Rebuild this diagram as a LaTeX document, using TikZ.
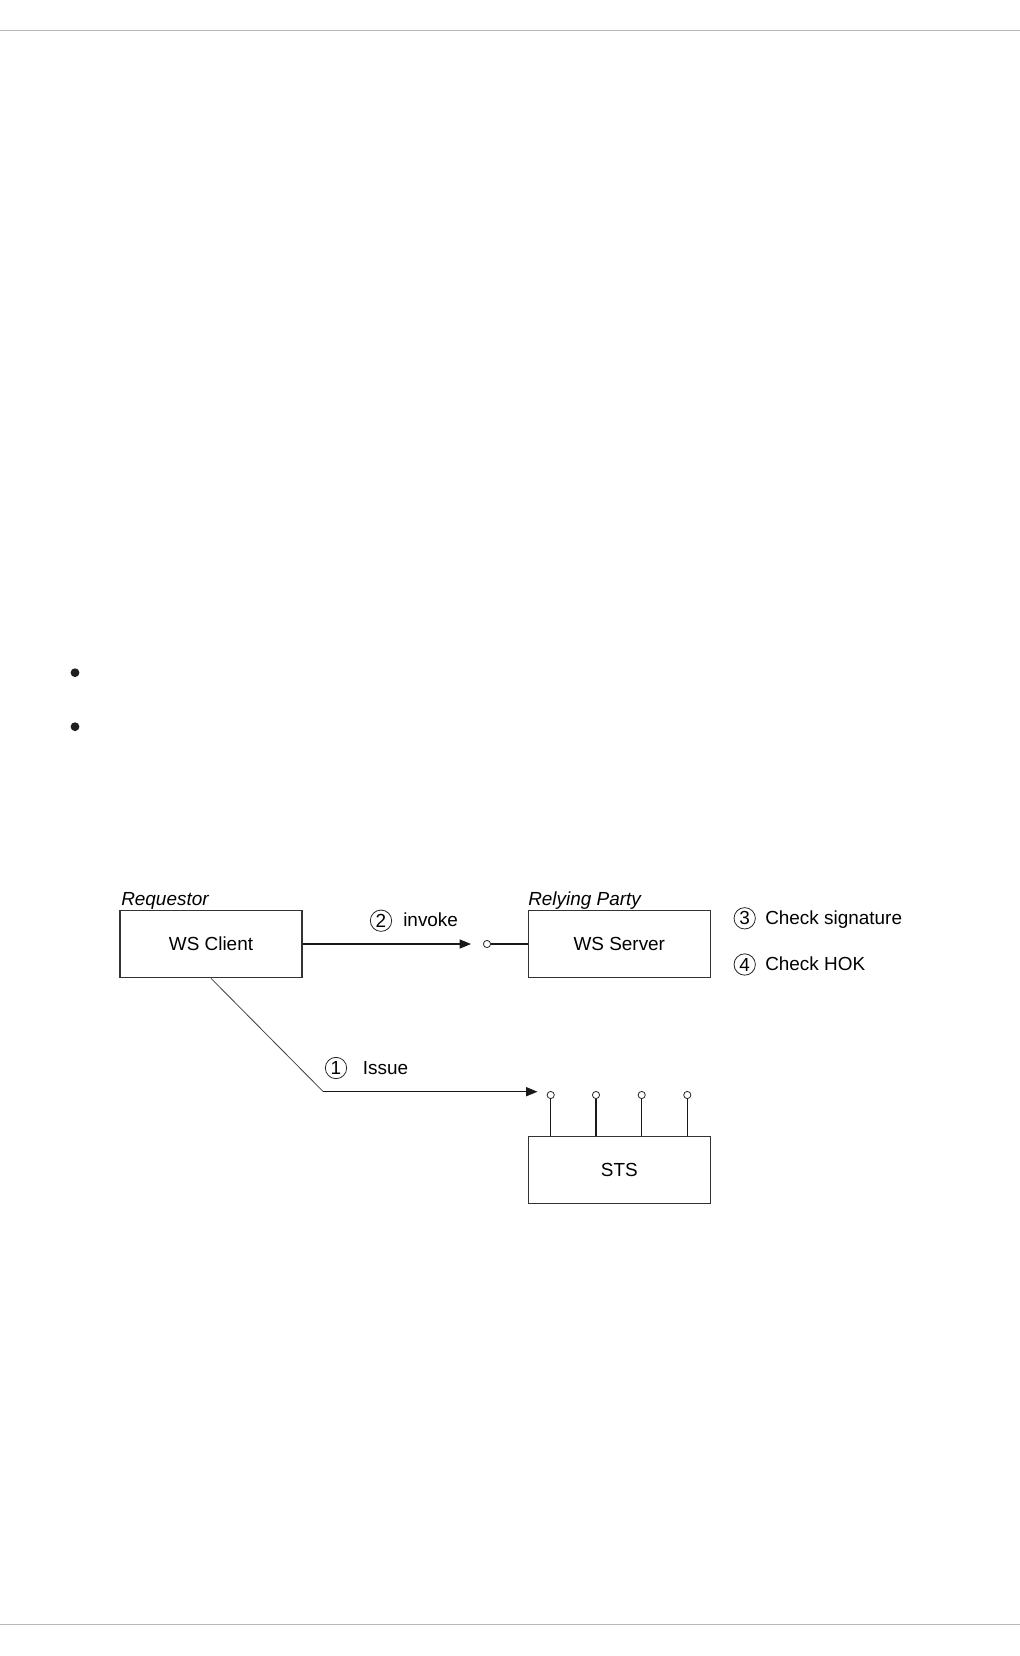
\documentclass[tikz,border=0pt]{standalone}
\usepackage{fontspec}
\setmainfont{Liberation Sans}
\usetikzlibrary{arrows.meta}
\begin{document}
\begin{tikzpicture}[x=0.75pt,y=-0.75pt,
  every node/.style={font=\fontsize{14.2pt}{16pt}\selectfont},
  box/.style={draw=black!80,line width=0.8pt,minimum width=136.5pt,minimum height=50.7pt,inner sep=0pt},
  lbl/.style={inner sep=0pt,anchor=base west},
  num/.style={draw=black!85,circle,line width=0.6pt,minimum size=16pt,inner sep=0pt},
  conn/.style={draw=black!90,line width=0.8pt},
  arr/.style={conn,-{Triangle[length=8.5pt,width=6.8pt]}},
  port/.style={draw=black!85,circle,line width=0.6pt,minimum size=5.4pt,inner sep=0pt,fill=white},
  rule/.style={draw=black!27,line width=1.15pt}
]
\useasboundingbox (0,0) rectangle (1020,1656);
% page rules
\coordinate (tl) at (0,30.7); \coordinate (tr) at (1020,30.7);
\coordinate (bl) at (0,1624.7); \coordinate (br) at (1020,1624.7);
\draw[rule] (tl) -- (tr);
\draw[rule] (bl) -- (br);
% bullets
\fill[black!88] (75,672.7) circle (3.3pt);
\fill[black!88] (75,726.7) circle (3.3pt);
% boxes
\node[box] (wc) at (211,944) {WS Client};
\node[box] (wsv) at (619.3,944) {WS Server};
\node[box] (sts) at (619.3,1170) {STS};
\node[lbl,font=\fontsize{14.2pt}{16pt}\selectfont\itshape] (req) at (121,905) {Requestor};
\node[lbl,font=\fontsize{14.2pt}{16pt}\selectfont\itshape] (rp) at (528,905) {Relying Party};
% invoke
\coordinate (invtip) at (471,944);
\node[port] (p0) at (487,944) {};
\draw[arr] (wc.east) -- (invtip);
\draw[conn] (p0.east) -- (wsv.west);
\node[num] (n2) at (381,920.7) {2};
\node[lbl] (inv) at (403,926.7) {invoke};
\node[num] (n3) at (744.7,918.3) {3};
\node[lbl] (cs) at (765,924.3) {Check signature};
\node[num] (n4) at (744.7,964.5) {4};
\node[lbl] (ch) at (765,970.5) {Check HOK};
% issue
\coordinate (bend) at (323.3,1091.7);
\coordinate (isstip) at (537.5,1091.7);
\draw[draw=black!75,line width=0.6pt] (wc.south) -- (bend);
\draw[arr] (bend) -- (isstip);
\node[num] (n1) at (336,1068) {1};
\node[lbl] (iss) at (362.7,1074) {Issue};
% STS pins
\foreach \i/\x in {1/550.7,2/596,3/641.7,4/687.3}{
  \node[port] (q\i) at (\x,1095) {};
  \draw[conn] (q\i.south) -- (q\i.south |- sts.north);
}
\end{tikzpicture}
\end{document}
